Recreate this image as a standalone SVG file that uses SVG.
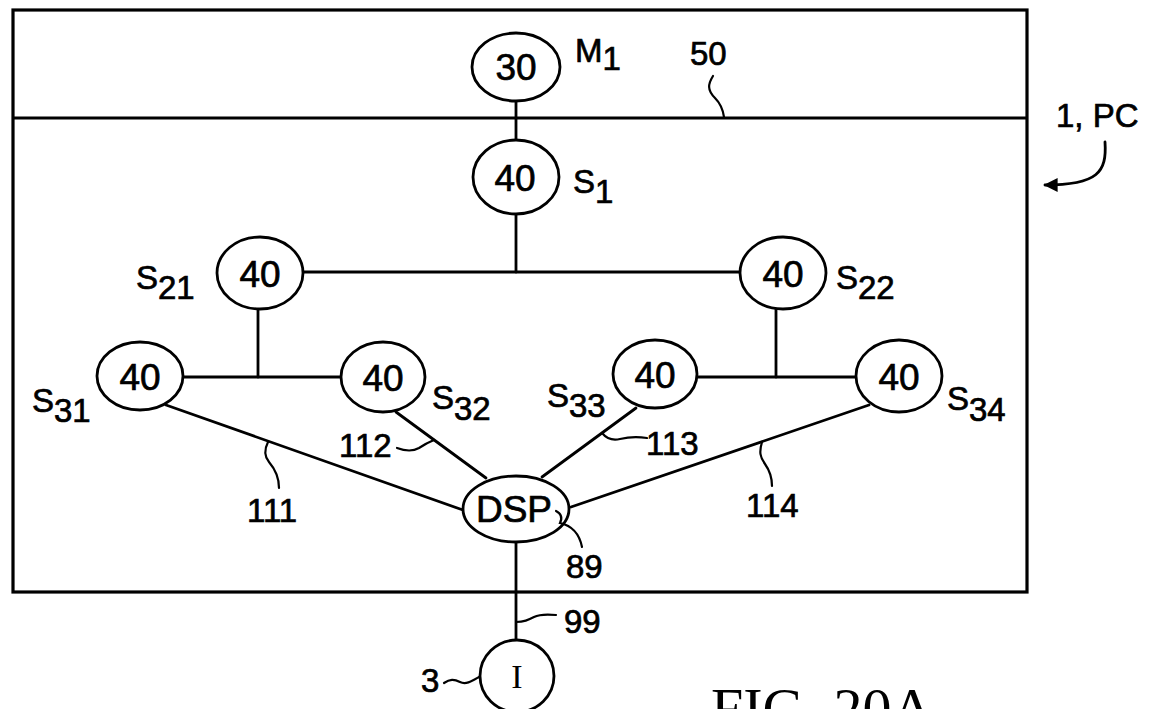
<svg xmlns="http://www.w3.org/2000/svg" width="1154" height="709" viewBox="0 0 1154 709">
<style>
.bg{fill:#fff}
.frame{fill:none;stroke:#000;stroke-width:3.2}
.node{fill:#fff;stroke:#000;stroke-width:2.8}
.conn{fill:none;stroke:#000;stroke-width:2.8;stroke-linecap:round}
.lead{fill:none;stroke:#000;stroke-width:2.2;stroke-linecap:round}
.nt{font-family:"Liberation Sans",Arial,sans-serif;font-size:37px;fill:#000;stroke:#000;stroke-width:0.7;text-anchor:middle}
.lbl{font-family:"Liberation Sans",Arial,sans-serif;font-size:33px;fill:#000;stroke:#000;stroke-width:0.7}
.serif{font-family:"Liberation Serif","Times New Roman",serif;fill:#000}
</style>
<defs>
<marker id="ah" viewBox="0 0 10 10" refX="9" refY="5" markerUnits="userSpaceOnUse" markerWidth="18" markerHeight="14" orient="auto">
<path d="M0,0 L10,5 L0,10 z" fill="#000"/>
</marker>
</defs>
<rect class="bg" x="0" y="0" width="1154" height="709"/>

<g id="frame">
<rect class="frame" x="13" y="10" width="1014" height="582"/>
<line class="frame" x1="13" y1="118" x2="1027" y2="118"/>
</g>

<g id="connectors">
<line class="conn" x1="516" y1="101" x2="516" y2="141"/>
<line class="conn" x1="516" y1="214" x2="516" y2="272"/>
<line class="conn" x1="303" y1="272" x2="740" y2="272"/>
<line class="conn" x1="258" y1="309" x2="258" y2="377"/>
<line class="conn" x1="183" y1="377" x2="341" y2="377"/>
<line class="conn" x1="776" y1="309" x2="776" y2="377"/>
<line class="conn" x1="697" y1="377" x2="856" y2="377"/>
<line class="conn" x1="166" y1="405" x2="463" y2="510"/>
<line class="conn" x1="396" y1="412" x2="486" y2="478"/>
<line class="conn" x1="636" y1="408" x2="542" y2="477"/>
<line class="conn" x1="869" y1="405" x2="571" y2="507"/>
<line class="conn" x1="516" y1="542" x2="516" y2="639"/>
</g>

<g id="node-m1">
<ellipse class="node" cx="516" cy="67" rx="44" ry="34"/>
<text class="nt" x="516" y="80">30</text>
<text class="lbl" x="575" y="62">M<tspan dy="8">1</tspan></text>
</g>

<g id="node-s1">
<ellipse class="node" cx="516" cy="177" rx="43" ry="37"/>
<text class="nt" x="515" y="191">40</text>
<text class="lbl" x="573" y="193">S<tspan dy="10">1</tspan></text>
</g>

<g id="node-s21">
<ellipse class="node" cx="260" cy="273" rx="43" ry="36"/>
<text class="nt" x="260" y="287">40</text>
<text class="lbl" x="136" y="289">S<tspan dy="10">21</tspan></text>
</g>

<g id="node-s22">
<ellipse class="node" cx="783" cy="273" rx="43" ry="36"/>
<text class="nt" x="783" y="287">40</text>
<text class="lbl" x="836" y="289">S<tspan dy="10">22</tspan></text>
</g>

<g id="node-s31">
<ellipse class="node" cx="140" cy="376" rx="43" ry="34"/>
<text class="nt" x="140" y="390">40</text>
<text class="lbl" x="32" y="412">S<tspan dy="10">31</tspan></text>
</g>

<g id="node-s32">
<ellipse class="node" cx="383" cy="377" rx="42" ry="35"/>
<text class="nt" x="383" y="391">40</text>
<text class="lbl" x="432" y="409">S<tspan dy="11">32</tspan></text>
</g>

<g id="node-s33">
<ellipse class="node" cx="655" cy="374" rx="42" ry="34"/>
<text class="nt" x="655" y="388">40</text>
<text class="lbl" x="547" y="407">S<tspan dy="10">33</tspan></text>
</g>

<g id="node-s34">
<ellipse class="node" cx="899" cy="376" rx="43" ry="36"/>
<text class="nt" x="899" y="390">40</text>
<text class="lbl" x="947" y="410">S<tspan dy="11">34</tspan></text>
</g>

<g id="node-dsp">
<ellipse class="node" cx="516" cy="509" rx="53" ry="33"/>
<text class="nt" x="514" y="522" font-size="36">DSP</text>
</g>

<g id="node-i">
<ellipse class="node" cx="517" cy="676" rx="37" ry="36"/>
<text class="serif" x="517" y="688" font-size="34" text-anchor="middle">I</text>
</g>

<g id="labels">
<text class="lbl" x="690" y="65">50</text>
<path class="lead" d="M713,76 c-5,8 -6,14 2,22 c6,6 8,12 9,19"/>
<text class="lbl" x="1056" y="127" font-size="31">1, PC</text>
<path class="conn" d="M1105,142 C1107,172 1098,185 1045,185" marker-end="url(#ah)"/>
<text class="lbl" x="247" y="522">111</text>
<path class="lead" d="M268,442 c-4,8 -4,14 1,20 c6,7 10,14 10,26"/>
<text class="lbl" x="339" y="457">112</text>
<path class="lead" d="M397,448 c8,3 15,4 22,0 c6,-4 10,-6 15,-8"/>
<text class="lbl" x="646" y="455">113</text>
<path class="lead" d="M602,433 c5,6 10,8 18,6 c8,-2 15,-3 27,-1"/>
<text class="lbl" x="746" y="517">114</text>
<path class="lead" d="M762,442 c-3,10 -2,15 3,22 c5,7 7,14 7,22"/>
<text class="lbl" x="566" y="578">89</text>
<path class="lead" d="M556,511 q8,4 4,12 q18,4 22,24"/>
<text class="lbl" x="564" y="633">99</text>
<path class="lead" d="M516,622 c8,0 12,-2 18,-5 c6,-3 12,-3 22,-2"/>
<text class="lbl" x="421" y="692">3</text>
<path class="lead" d="M444,683 c6,-4 10,-4 16,-1 c6,3 12,-1 19,-5"/>
<text class="serif" x="711" y="728" font-size="58">FIG. 20A</text>
</g>
</svg>
